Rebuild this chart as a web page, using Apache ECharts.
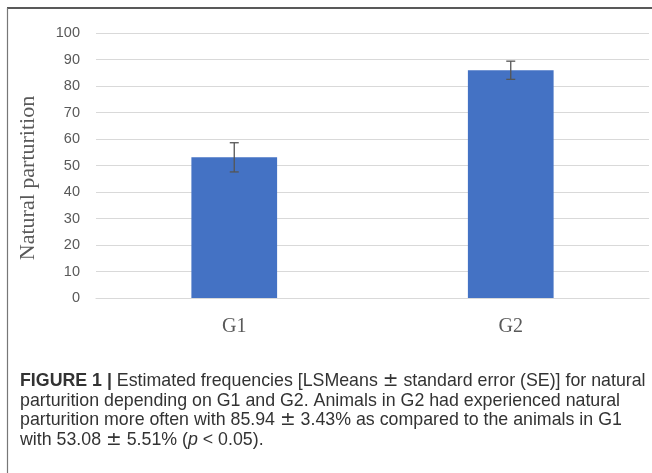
<!DOCTYPE html>
<html>
<head>
<meta charset="utf-8">
<script src="https://cdn.jsdelivr.net/npm/echarts@6/dist/echarts.min.js"></script>
<style>
html,body{margin:0;padding:0;background:#fff;}
#c{width:652px;height:473px;}
</style>
</head>
<body>
<div id="c"></div>
<script>
var categories = ['G1', 'G2'];
var means = [53.08, 85.94];
var errors = [5.51, 3.43];
var yMin = 0, yMax = 100, yStep = 10;
var yAxisName = 'Natural parturition';
var captionRich = '{b|FIGURE 1 |}{n| Estimated frequencies [LSMeans }{pm|\u00b1}{n| standard error (SE)] for natural}\n' +
  '{n|parturition depending on G1 and G2. Animals in G2 had experienced natural}\n' +
  '{n|parturition more often with 85.94 }{pm|\u00b1}{n| 3.43% as compared to the animals in G1}\n' +
  '{n|with 53.08 }{pm|\u00b1}{n| 5.51% (}{i|p}{n| < 0.05).}';

var chart = echarts.init(document.getElementById('c'));
var errData = categories.map(function (c, i) { return [i, means[i] - errors[i], means[i] + errors[i]]; });

var capFont = '"Liberation Sans", Arial, sans-serif';
var serif = '"Liberation Serif", "Times New Roman", serif';
var capSize = 17.8;
chart.setOption({
  animation: false,
  grid: { left: 96, right: 3, top: 33, bottom: 175, containLabel: false },
  xAxis: {
    type: 'category',
    data: categories,
    axisLine: { show: true, lineStyle: { color: '#d9d9d9', width: 1.2 } },
    axisTick: { show: false },
    axisLabel: { color: '#595959', fontFamily: serif, fontSize: 20, margin: 19 }
  },
  yAxis: {
    type: 'value',
    min: yMin, max: yMax, interval: yStep,
    axisLine: { show: false },
    axisTick: { show: false },
    axisLabel: { color: '#595959', fontFamily: '"Liberation Sans", Arial, sans-serif', fontSize: 14.5, margin: 16 },
    splitLine: { lineStyle: { color: '#d9d9d9', width: 1.2 } }
  },
  series: [
    {
      type: 'bar',
      data: means,
      barWidth: '31%',
      itemStyle: { color: '#4472C4' }
    },
    {
      type: 'custom',
      data: errData,
      z: 10,
      renderItem: function (params, api) {
        var x = api.value(0);
        var lo = api.coord([x, api.value(1)]);
        var hi = api.coord([x, api.value(2)]);
        var hw = 4.5;
        var st = { stroke: '#555', lineWidth: 1.3 };
        return {
          type: 'group',
          children: [
            { type: 'line', shape: { x1: lo[0], y1: lo[1], x2: hi[0], y2: hi[1] }, style: st },
            { type: 'line', shape: { x1: lo[0] - hw, y1: lo[1], x2: lo[0] + hw, y2: lo[1] }, style: st },
            { type: 'line', shape: { x1: hi[0] - hw, y1: hi[1], x2: hi[0] + hw, y2: hi[1] }, style: st }
          ]
        };
      }
    }
  ],
  graphic: [
    { type: 'line', shape: { x1: 7, y1: 8, x2: 652, y2: 8 }, style: { stroke: '#222', lineWidth: 1.5 } },
    { type: 'line', shape: { x1: 7.5, y1: 8, x2: 7.5, y2: 473 }, style: { stroke: '#777', lineWidth: 1.2 } },
    {
      type: 'text', x: 28, y: 178, rotation: Math.PI / 2,
      style: { text: yAxisName, fontFamily: serif, fontSize: 22, fill: '#595959', align: 'center', verticalAlign: 'middle' }
    },
    {
      type: 'text', left: 20, top: 372,
      style: {
        text: captionRich,
        rich: {
          b: { fontFamily: capFont, fontWeight: 'bold', fontSize: capSize, fill: '#333', lineHeight: 19.5 },
          n: { fontFamily: capFont, fontSize: capSize, fill: '#333', lineHeight: 19.5 },
          pm: { fontFamily: '"DejaVu Sans", sans-serif', fontSize: capSize + 1, fill: '#333', lineHeight: 19.5 },
          i: { fontFamily: capFont, fontStyle: 'italic', fontSize: capSize, fill: '#333', lineHeight: 19.5 }
        }
      }
    }
  ]
});
</script>
</body>
</html>
